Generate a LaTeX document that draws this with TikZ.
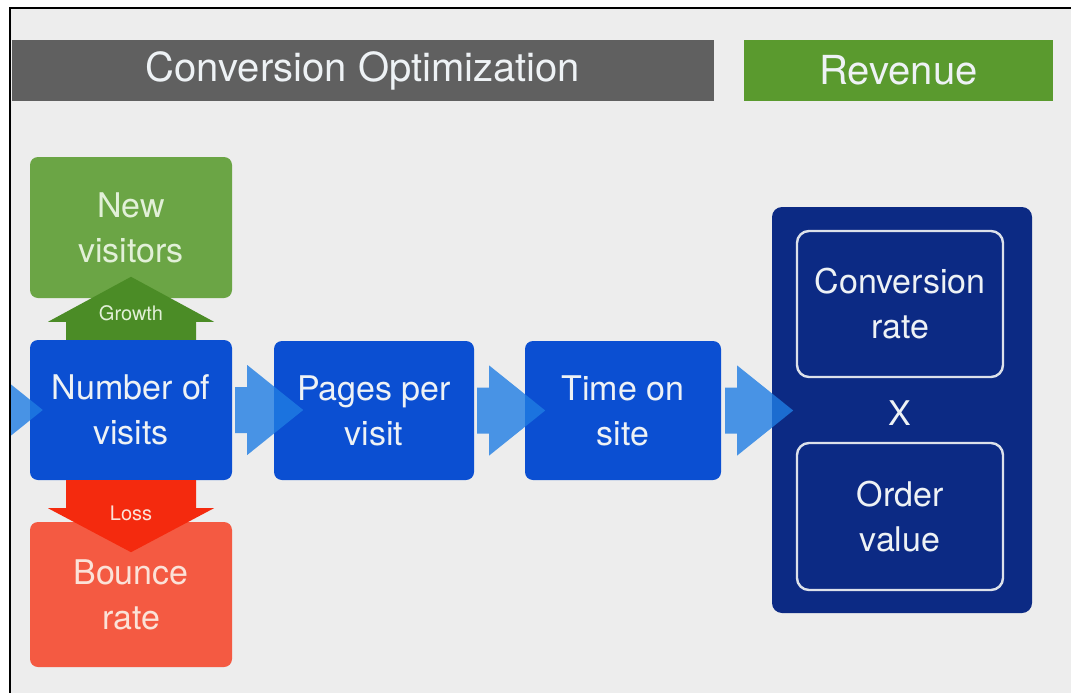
\documentclass[tikz,border=0pt]{standalone}
\usepackage{fontspec}
\setmainfont{TeX Gyre Heros}
\usetikzlibrary{calc}

\definecolor{pagebg}{HTML}{EDEDED}
\definecolor{hdrgray}{HTML}{606060}
\definecolor{hdrgreen}{HTML}{5A9A2E}
\definecolor{boxgreen}{HTML}{6BA545}
\definecolor{arrowgreen}{HTML}{4B8C26}
\definecolor{boxblue}{HTML}{0B4FD2}
\definecolor{flowblue}{HTML}{1F7DE3}
\definecolor{arrowred}{HTML}{F42A0E}
\definecolor{boxred}{HTML}{F45A42}
\definecolor{navy}{HTML}{0C2A84}
\definecolor{outline}{HTML}{DCE1EA}
\definecolor{txtlight}{HTML}{EEF2F5}
\definecolor{txtgreen}{HTML}{E2F0D8}
\definecolor{txtred}{HTML}{FBE2D8}

\tikzset{
  hdrbar/.style={rectangle, inner sep=0pt, text=txtlight,
    font=\fontsize{40}{44}\selectfont},
  card/.style={rectangle, rounded corners=8pt, inner sep=0pt, align=center,
    text=txtlight, font=\fontsize{34}{45}\selectfont},
  bluecard/.style={card, fill=boxblue, minimum height=139pt},
  innercard/.style={card, draw=outline, line width=2.4pt, rounded corners=12pt,
    minimum width=206pt},
  tag/.style={inner sep=0pt, font=\fontsize{20}{22}\selectfont},
  flowfill/.style={fill=flowblue, fill opacity=0.8},
  pics/flowchev/.style={code={
    \fill[flowfill] (0,-23) -- (12,-23) -- (12,-45) -- (68,0) -- (12,45)
      -- (12,23) -- (0,23) -- cycle;}}
}

\begin{document}
\begin{tikzpicture}[x=1pt, y=-1pt]
  % page, slide area and its frame
  \useasboundingbox (0,0) rectangle (1071,693);
  \fill[white] (0,0) rectangle (1071,693);
  \fill[pagebg] (10,8) rectangle (1071,693);
  \draw[black, line width=2.5pt] (10,693) -- (10,8) -- (1071,8);

  % section headers
  \node[hdrbar, fill=hdrgray, minimum width=702pt, minimum height=61pt]
    (hdrconv) at (363,70.5) {Conversion Optimization};
  \node[hdrbar, fill=hdrgreen, minimum width=309pt, minimum height=61pt]
    (hdrrev) at (898.5,70.5) {Revenue};

  % visit funnel
  \node[card, fill=boxgreen, text=txtgreen, minimum width=202pt, minimum height=141pt]
    (newv) at (131,227.5) {New\\visitors};
  \node[bluecard, minimum width=202pt, minimum height=140pt]
    (visits) at (131,410) {Number of\\visits};
  \node[card, fill=boxred, text=txtred, minimum width=202pt, minimum height=145pt]
    (bounce) at (131,594.5) {Bounce\\rate};
  \node[bluecard, minimum width=200pt] (pages) at (374,410.5) {Pages per\\visit};
  \node[bluecard, minimum width=196pt] (time) at (623,410.5) {Time on\\site};

  % revenue block
  \node[rectangle, rounded corners=10pt, fill=navy, minimum width=260pt,
    minimum height=406pt] (revbox) at (902,410) {};
  \node[innercard, minimum height=146pt] (conv) at (900,304) {Conversion\\rate};
  \node[innercard, minimum height=147pt] (order) at (900,516.5) {Order\\value};
  \node[card, fill=none] (times) at (900,413) {X};

  % growth arrow: visits -> new visitors
  \coordinate (g) at (visits.north);
  \fill[arrowgreen] ($(g)+(-65,0)$) -- ++(0,-18) -- ++(-18,0) -- ($(g)+(0,-63)$)
    -- ($(g)+(83,-18)$) -- ++(-18,0) -- ($(g)+(65,0)$) -- cycle;
  \node[tag, text=txtgreen] (growth) at ($(g)+(0,-27)$) {Growth};

  % loss arrow: visits -> bounce rate
  \coordinate (l) at (visits.south);
  \fill[arrowred] ($(l)+(-65,0)$) -- ++(0,28) -- ++(-18,0) -- ($(l)+(0,72)$)
    -- ($(l)+(83,28)$) -- ++(-18,0) -- ($(l)+(65,0)$) -- cycle;
  \node[tag, text=txtred] (loss) at ($(l)+(0,33)$) {Loss};

  % flow chevrons
  \begin{scope}
    \clip (11,9) rectangle (1071,693);
    \pic at ($(visits.west)+(-55,0)$) {flowchev};
  \end{scope}
  \pic at ($(visits.east)+(3,0)$) {flowchev};
  \pic at ($(pages.east)+(3,0)$) {flowchev};
  \pic at ($(time.east)+(4,0)$) {flowchev};
\end{tikzpicture}
\end{document}
